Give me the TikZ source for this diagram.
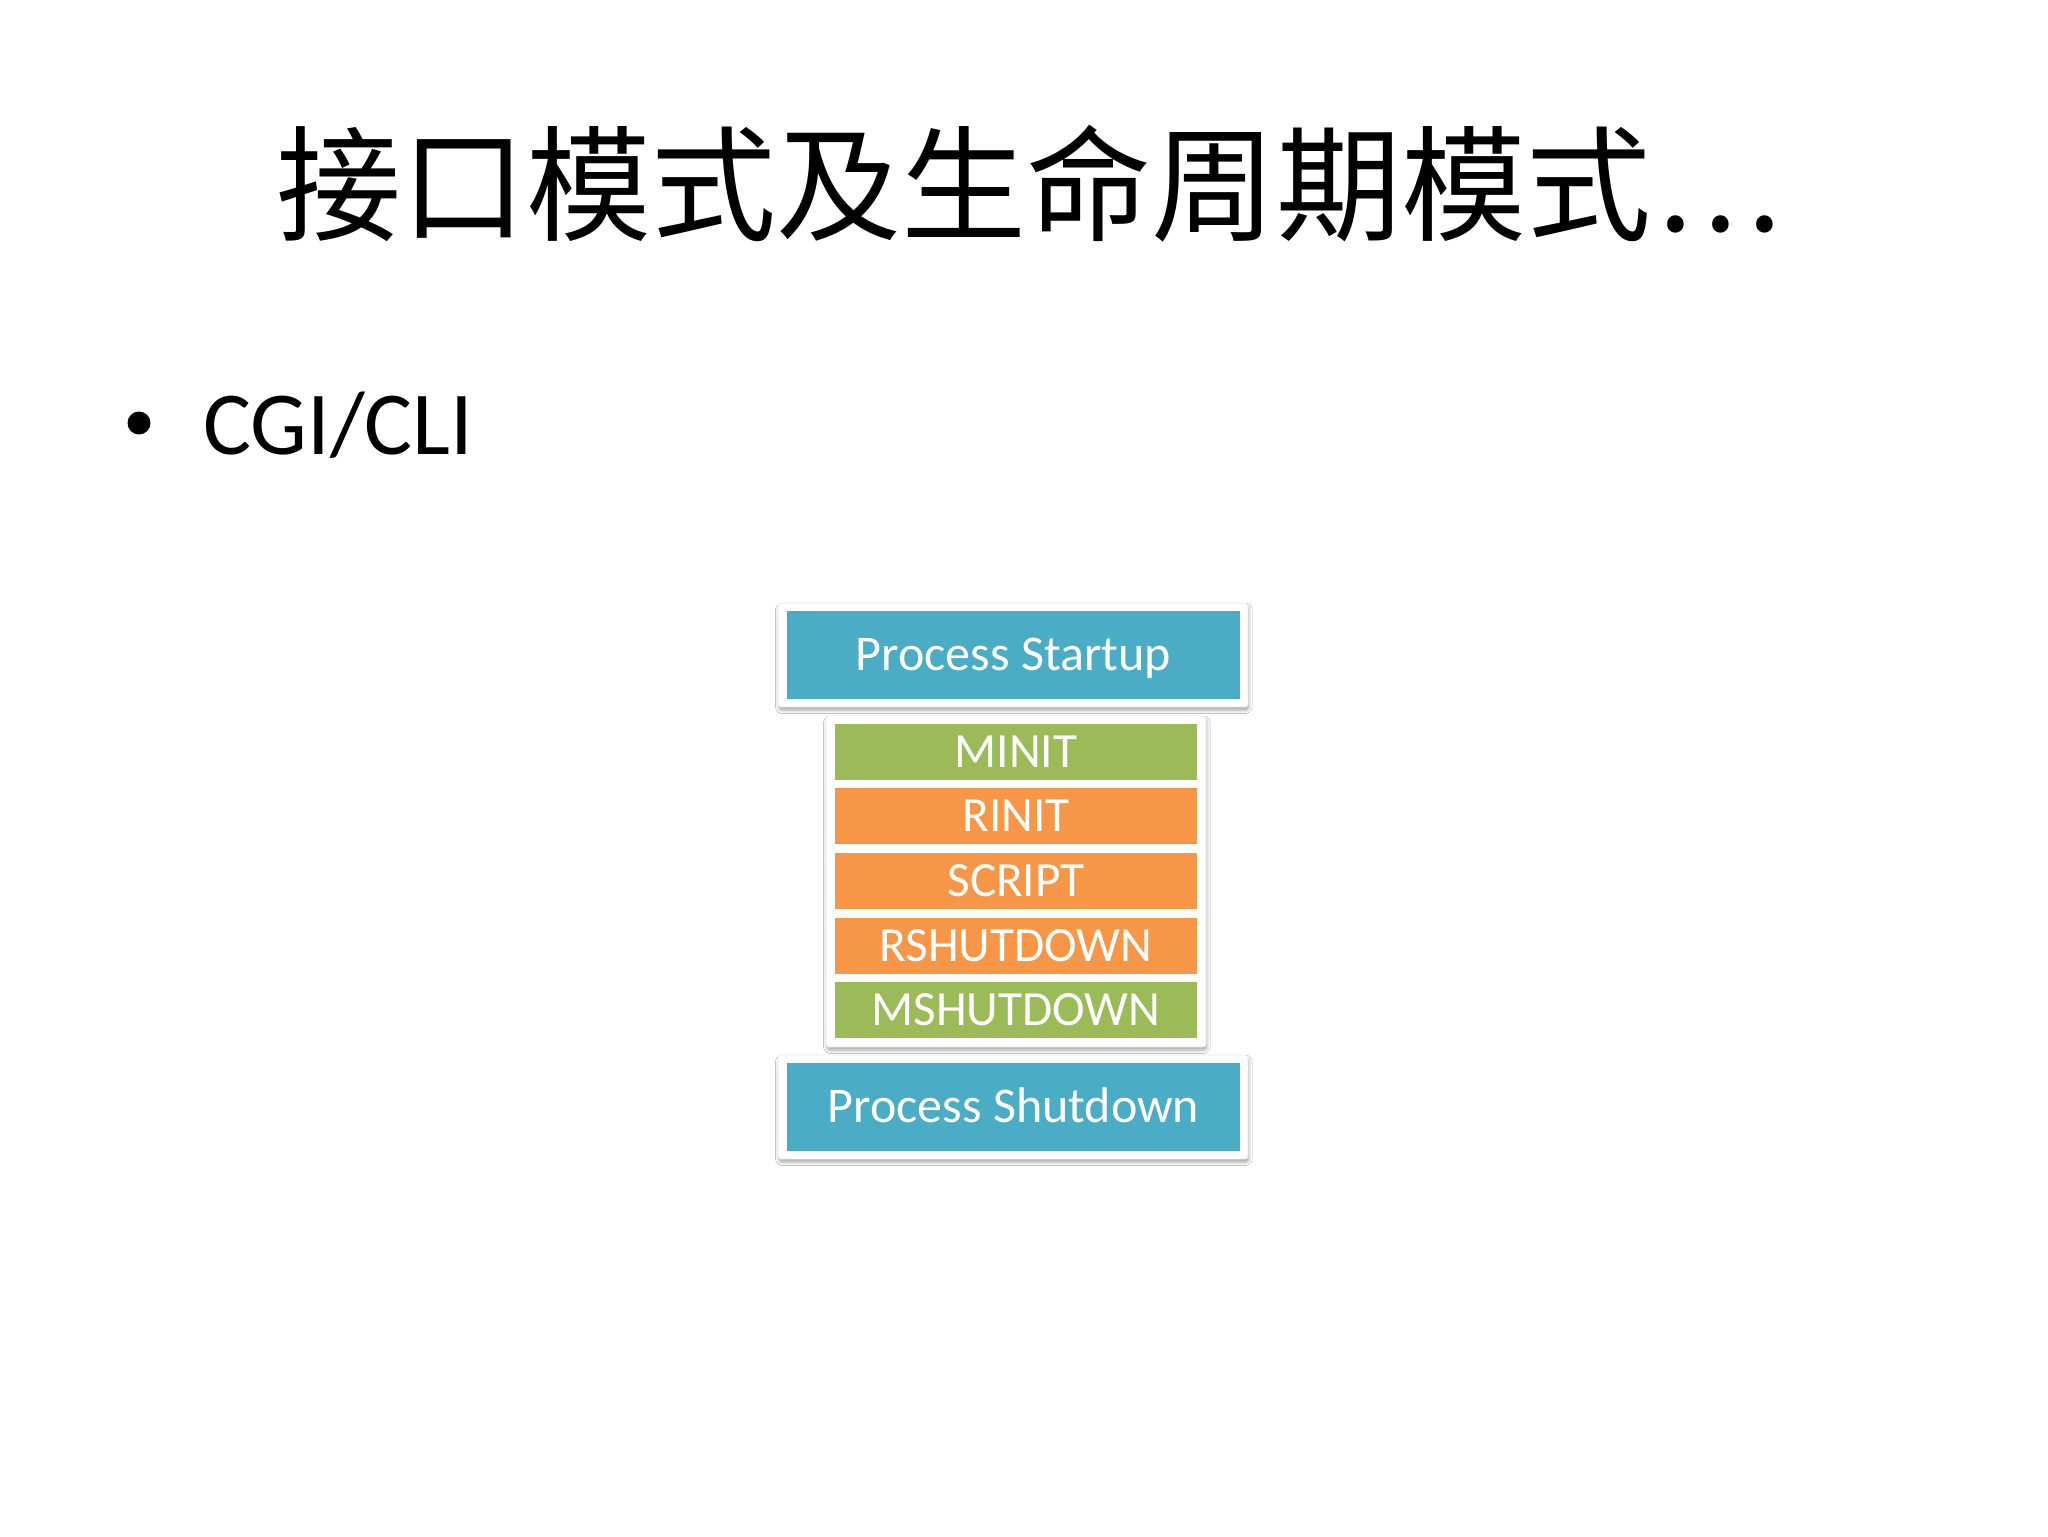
\documentclass[tikz,border=0pt]{standalone}
\usepackage{fontspec}
\setmainfont{Carlito}
\newfontfamily\cjk{Noto Sans CJK SC}
\usetikzlibrary{shadows.blur}
\definecolor{pblue}{HTML}{4BACC6}
\definecolor{pgreen}{HTML}{9BBB59}
\definecolor{porange}{HTML}{F79646}
\tikzset{
  frame/.style={draw=black!8, line width=0.4pt, fill=white, rounded corners=1.5pt,
    blur shadow={shadow xshift=0.4pt, shadow yshift=-1.6pt, shadow blur radius=1.6pt, shadow opacity=35, shadow blur steps=6},
    inner sep=0pt},
  bigbar/.style={fill=pblue, text=white, inner sep=0pt, minimum width=226.5pt, minimum height=44pt,
    font=\fontsize{25pt}{30pt}\selectfont, text height=15.8pt, text depth=0pt},
  bar/.style={inner sep=0pt, text=white, minimum width=181pt, minimum height=28pt,
    font=\fontsize{24.6pt}{29pt}\selectfont, text height=15.5pt, text depth=0pt},
}
\begin{document}
\begin{tikzpicture}[x=0.5pt,y=-0.5pt]
\useasboundingbox[fill=white] (0,0) rectangle (2048,1536);
% title
\node[anchor=base west, inner sep=0pt, font=\cjk\fontsize{62.5pt}{75pt}\selectfont] (title) at (276,231) {接口模式及生命周期模式\kern3.5pt.\kern5pt.\kern5pt.};
% bullet
\node[circle, fill=black, inner sep=0pt, minimum size=11.5pt] (bullet) at (139,423) {};
\node[anchor=base west, inner sep=0pt, font=\fontsize{45pt}{55pt}\selectfont] (cgi) at (203,454) {CGI/CLI};
% startup
\node[frame, minimum width=235pt, minimum height=52pt] (startframe) at (1013,655) {};
\node[bigbar] (startup) at (1013.5,655) {Process Startup};
% middle panel
\node[frame, minimum width=190pt, minimum height=165.5pt] (midframe) at (1016,881.5) {};
\node[bar, fill=pgreen] (minit) at (1016,752) {MINIT};
\node[bar, fill=porange] (rinit) at (1016,816) {RINIT};
\node[bar, fill=porange] (script) at (1016,881) {SCRIPT};
\node[bar, fill=porange] (rshut) at (1016,945.5) {RSHUTDOWN};
\node[bar, fill=pgreen] (mshut) at (1016,1010) {MSHUTDOWN};
% shutdown
\node[frame, minimum width=235pt, minimum height=52pt] (shutframe) at (1013,1107) {};
\node[bigbar] (shutdown) at (1013.5,1107) {Process Shutdown};
\end{tikzpicture}
\end{document}
